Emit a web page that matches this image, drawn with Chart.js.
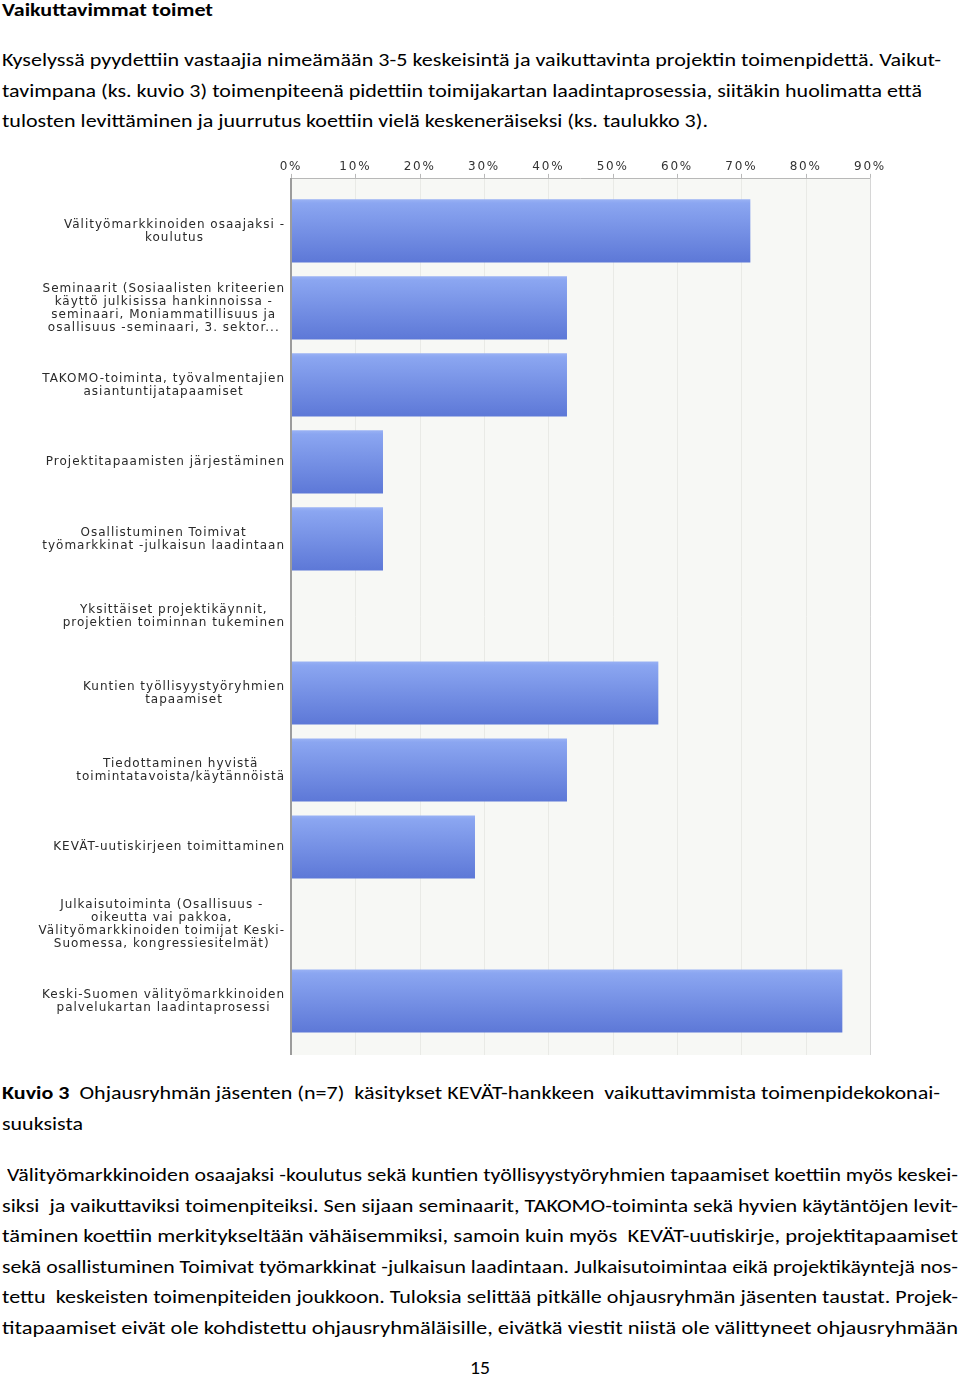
<!DOCTYPE html>
<html lang="fi">
<head>
<meta charset="utf-8">
<title>Kuvio 3</title>
<script src="https://cdn.jsdelivr.net/npm/chart.js@4.4.1/dist/chart.umd.min.js"></script>
<style>
    body {
        margin: 0;
        width: 960px;
        height: 1379px;
        position: relative;
        overflow: hidden;
        background: #fff;
        color: #000;
        font-family: Carlito, Lato, "Open Sans", sans-serif;
    }
    .ln {
        position: absolute;
        white-space: pre;
        font-size: 19px;
        line-height: 24px;
    }
    .ln span {
        display: inline-block;
        transform-origin: 0 50%;
    }
    .bold { font-weight: bold; }
    #chartBox {
        position: absolute;
        left: 0;
        top: 142px;
        width: 960px;
        height: 920px;
    }
</style>
</head>
<body>
<div class="ln bold" style="left:2px;top:-2px" data-w="211"><span>Vaikuttavimmat toimet</span></div>

<div class="ln" style="left:2px;top:48px" data-w="939"><span>Kyselyssä pyydettiin vastaajia nimeämään 3-5 keskeisintä ja vaikuttavinta projektin toimenpidettä. Vaikut-</span></div>
<div class="ln" style="left:2px;top:79px" data-w="920"><span>tavimpana (ks. kuvio 3) toimenpiteenä pidettiin toimijakartan laadintaprosessia, siitäkin huolimatta että</span></div>
<div class="ln" style="left:2px;top:109px" data-w="706"><span>tulosten levittäminen ja juurrutus koettiin vielä keskeneräiseksi (ks. taulukko 3).</span></div>

<div id="chartBox"><canvas id="actionsChart"></canvas></div>

<div class="ln" style="left:2px;top:1081px" data-w="938"><span><b>Kuvio 3</b>  Ohjausryhmän jäsenten (n=7)  käsitykset KEVÄT-hankkeen  vaikuttavimmista toimenpidekokonai-</span></div>
<div class="ln" style="left:2px;top:1112px" data-w="81"><span>suuksista</span></div>

<div class="ln" style="left:7px;top:1163px" data-w="951"><span>Välityömarkkinoiden osaajaksi -koulutus sekä kuntien työllisyystyöryhmien tapaamiset koettiin myös keskei-</span></div>
<div class="ln" style="left:2px;top:1194px" data-w="956"><span>siksi  ja vaikuttaviksi toimenpiteiksi. Sen sijaan seminaarit, TAKOMO-toiminta sekä hyvien käytäntöjen levit-</span></div>
<div class="ln" style="left:2px;top:1224px" data-w="956"><span>täminen koettiin merkitykseltään vähäisemmiksi, samoin kuin myös  KEVÄT-uutiskirje, projektitapaamiset</span></div>
<div class="ln" style="left:2px;top:1255px" data-w="956"><span>sekä osallistuminen Toimivat työmarkkinat -julkaisun laadintaan. Julkaisutoimintaa eikä projektikäyntejä nos-</span></div>
<div class="ln" style="left:2px;top:1285px" data-w="956"><span>tettu  keskeisten toimenpiteiden joukkoon. Tuloksia selittää pitkälle ohjausryhmän jäsenten taustat. Projek-</span></div>
<div class="ln" style="left:2px;top:1316px" data-w="956"><span>titapaamiset eivät ole kohdistettu ohjausryhmäläisille, eivätkä viestit niistä ole välittyneet ohjausryhmään</span></div>

<div class="ln" style="left:470px;top:1356px" data-w="20"><span>15</span></div>

<script>
// Toimenpiteet (kategoriat), rivitettynä kuten kuvassa
const actions = [
    ['Välityömarkkinoiden osaajaksi -', 'koulutus'],
    ['Seminaarit (Sosiaalisten kriteerien', 'käyttö julkisissa hankinnoissa -', 'seminaari, Moniammatillisuus ja', 'osallisuus -seminaari, 3. sektor...'],
    ['TAKOMO-toiminta, työvalmentajien', 'asiantuntijatapaamiset'],
    ['Projektitapaamisten järjestäminen'],
    ['Osallistuminen Toimivat', 'työmarkkinat -julkaisun laadintaan'],
    ['Yksittäiset projektikäynnit,', 'projektien toiminnan tukeminen'],
    ['Kuntien työllisyystyöryhmien', 'tapaamiset'],
    ['Tiedottaminen hyvistä', 'toimintatavoista/käytännöistä'],
    ['KEVÄT-uutiskirjeen toimittaminen'],
    ['Julkaisutoiminta (Osallisuus -', 'oikeutta vai pakkoa,', 'Välityömarkkinoiden toimijat Keski-', 'Suomessa, kongressiesitelmät)'],
    ['Keski-Suomen välityömarkkinoiden', 'palvelukartan laadintaprosessi']
];

// Osuus vastaajista (%), n=7
const shares = [71.4, 42.9, 42.9, 14.3, 14.3, 0, 57.1, 42.9, 28.6, 0, 85.7];

// X-akselin asteikko (%)
const axisMin = 0;
const axisMax = 90;
const axisStep = 10;

// Fit each text line to the width it has in the original page
function fitLines() {
    document.querySelectorAll('.ln').forEach(el => {
        const span = el.firstElementChild;
        const target = Number(el.dataset.w);
        const w = span.getBoundingClientRect().width;
        if (w > 0) {
            span.style.transform = `scaleX(${target / w})`;
        }
    });
}

// Bar gradient, one per bar
function barGradient(context) {
    const chart = context.chart;
    const yScale = chart.scales.y;
    if (!chart.chartArea || !yScale) {
        return '#7590e4';
    }
    const band = yScale.getPixelForValue(1) - yScale.getPixelForValue(0);
    const cy = yScale.getPixelForValue(context.dataIndex);
    const half = band * 0.82 / 2;
    const g = chart.ctx.createLinearGradient(0, cy - half, 0, cy + half);
    g.addColorStop(0, '#9ab2f4');
    g.addColorStop(0.06, '#8ba6f1');
    g.addColorStop(1, '#5d78d7');
    return g;
}

// Plot background, grid and axis lines (the plot reaches a bit past the bars)
const plotFrame = {
    id: 'plotFrame',
    beforeDraw(chart) {
        const { ctx, chartArea: a, scales: { x } } = chart;
        const top = a.top - 14.5;
        const bottom = a.bottom + 15.5;

        ctx.save();
        ctx.fillStyle = '#f7f8f5';
        ctx.fillRect(a.left, top, a.right - a.left, bottom - top);

        ctx.lineWidth = 1;
        ctx.strokeStyle = '#e9eae6';
        x.ticks.forEach(t => {
            const px = Math.round(x.getPixelForValue(t.value)) + 0.5;
            ctx.beginPath();
            ctx.moveTo(px, top);
            ctx.lineTo(px, bottom);
            ctx.stroke();
        });

        // top axis with small ticks
        ctx.strokeStyle = '#b8b8b8';
        ctx.beginPath();
        ctx.moveTo(a.left, Math.round(top) + 0.5);
        ctx.lineTo(a.right, Math.round(top) + 0.5);
        x.ticks.forEach(t => {
            const px = Math.round(x.getPixelForValue(t.value)) + 0.5;
            ctx.moveTo(px, top - 4);
            ctx.lineTo(px, top);
        });
        ctx.stroke();

        ctx.strokeStyle = '#d6d6d6';
        ctx.beginPath();
        ctx.moveTo(Math.round(a.right) + 0.5, top);
        ctx.lineTo(Math.round(a.right) + 0.5, bottom);
        ctx.stroke();
        ctx.restore();

        // wider letter spacing for the tick labels
        ctx.letterSpacing = '1.8px';
    },
    afterDatasetsDraw(chart) {
        const { ctx, chartArea: a } = chart;
        ctx.save();
        ctx.strokeStyle = '#9c9c9c';
        ctx.lineWidth = 2;
        ctx.beginPath();
        ctx.moveTo(a.left, a.top - 14.5);
        ctx.lineTo(a.left, a.bottom + 15.5);
        ctx.stroke();
        ctx.restore();
    },
    afterDraw(chart) {
        const { ctx, chartArea: a, scales: { y } } = chart;
        ctx.save();
        ctx.letterSpacing = '1px';
        ctx.font = '12px "DejaVu Sans", Verdana, sans-serif';
        ctx.fillStyle = '#2a2a2a';
        ctx.textAlign = 'center';
        ctx.textBaseline = 'middle';
        actions.forEach((lines, i) => {
            const cy = y.getPixelForValue(i);
            const w = Math.max(...lines.map(l => ctx.measureText(l).width));
            const cx = a.left - 6 - w / 2;
            lines.forEach((line, k) => {
                ctx.fillText(line, cx, cy + (k - (lines.length - 1) / 2) * 13);
            });
        });
        ctx.restore();
        ctx.letterSpacing = '0px';
    }
};

function createActionsChart() {
    const ctx = document.getElementById('actionsChart').getContext('2d');

    new Chart(ctx, {
        type: 'bar',
        data: {
            labels: actions,
            datasets: [{
                label: 'Vastaajat (%)',
                data: shares,
                backgroundColor: barGradient,
                borderWidth: 0,
                barPercentage: 0.82,
                categoryPercentage: 1.0
            }]
        },
        options: {
            indexAxis: 'y',
            responsive: true,
            maintainAspectRatio: false,
            animation: false,
            layout: {
                padding: { left: 291, right: 90, top: 0, bottom: 22.5 }
            },
            plugins: {
                legend: { display: false },
                tooltip: { enabled: false }
            },
            scales: {
                x: {
                    position: 'top',
                    min: axisMin,
                    max: axisMax,
                    grid: { display: false, drawTicks: false },
                    border: { display: false },
                    ticks: {
                        stepSize: axisStep,
                        padding: 18,
                        maxRotation: 0,
                        color: '#333',
                        font: { family: '"DejaVu Sans", Verdana, sans-serif', size: 12 },
                        callback: function (value) {
                            return value + '%';
                        }
                    }
                },
                y: {
                    display: false
                }
            }
        },
        plugins: [plotFrame]
    });
}

document.addEventListener('DOMContentLoaded', () => {
    createActionsChart();
    document.fonts.ready.then(fitLines);
});
</script>
</body>
</html>
